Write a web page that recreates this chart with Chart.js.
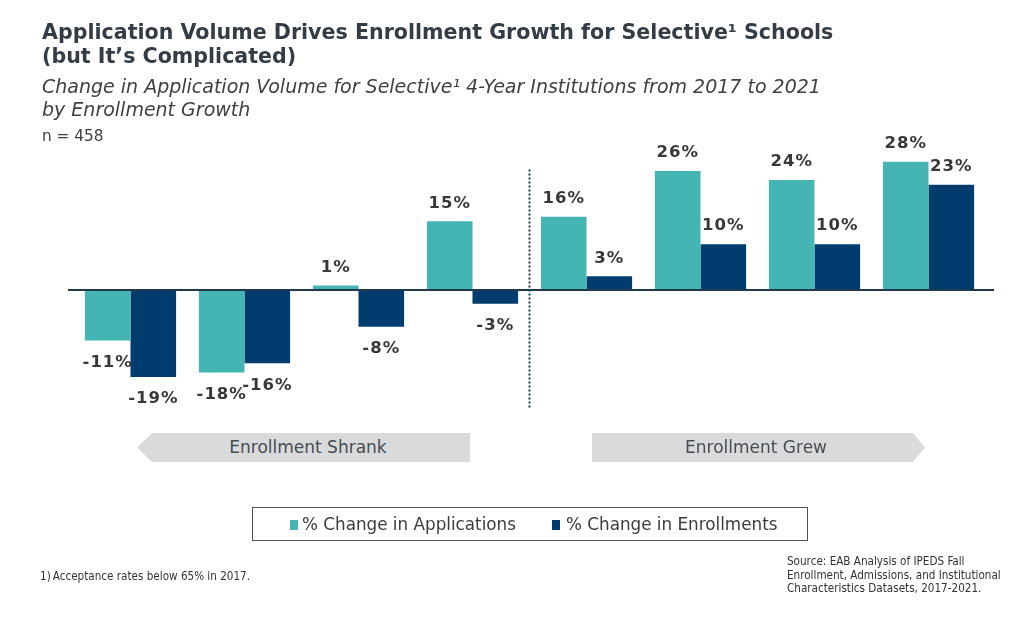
<!DOCTYPE html>
<html>
<head>
<meta charset="utf-8">
<script src="https://cdn.jsdelivr.net/npm/chart.js@4.4.1/dist/chart.umd.min.js"></script>
<style>
  html, body { margin:0; padding:0; background:#fff; }
  body { width:1024px; height:622px; position:relative; overflow:hidden;
         font-family:"DejaVu Sans",sans-serif; color:#3a3a3a; }
  #c { position:absolute; left:0; top:0; }
  .abs { position:absolute; white-space:nowrap; }
  #title { left:42px; top:20px; font-size:20.6px; line-height:24px; font-weight:bold; color:#343c46; }
  #sub { left:42px; top:75px; font-size:19px; line-height:23px; font-style:italic; color:#404040; }
  #n { left:42px; top:126px; font-size:15.3px; line-height:20px; color:#404040; }
  .banner { position:absolute; top:433px; height:29px; background:#d9dadc; color:#464c52;
            font-size:17px; line-height:29px; }
  #shrank { left:137px; width:333px; clip-path:polygon(15px 0,100% 0,100% 100%,15px 100%,0 50%); }
  #grew { left:592px; width:333px; clip-path:polygon(0 0,calc(100% - 12px) 0,100% 50%,calc(100% - 12px) 100%,0 100%); }
  .banner span { position:absolute; top:0; transform:translateX(-50%); }
  #legend { left:252px; top:507px; width:554px; height:32px; border:1.5px solid #505050; }
  .sw { position:absolute; top:12px; width:8px; height:10px; }
  .lt { position:absolute; top:0; line-height:33px; font-size:16.8px; color:#3c3c3c; }
  .cond { font-family:"DejaVu Sans Condensed","DejaVu Sans",sans-serif; }
  #foot { left:40px; top:569px; font-size:11.6px; line-height:14px; color:#333; }
  #src { left:787px; top:555px; font-size:11.6px; line-height:13.5px; color:#333; }
</style>
</head>
<body>
<canvas id="c" width="1024" height="622"></canvas>
<div id="title" class="abs">Application Volume Drives Enrollment Growth for Selective¹ Schools<br>(but It’s Complicated)</div>
<div id="sub" class="abs">Change in Application Volume for Selective¹ 4-Year Institutions from 2017 to 2021<br>by Enrollment Growth</div>
<div id="n" class="abs">n = 458</div>
<div id="shrank" class="banner"><span style="left:171px">Enrollment Shrank</span></div>
<div id="grew" class="banner"><span style="left:164px">Enrollment Grew</span></div>
<div id="legend" class="abs">
  <div class="sw" style="left:37px;background:#45b5b4"></div>
  <div class="lt" style="left:49px">% Change in Applications</div>
  <div class="sw" style="left:299px;background:#003d6e"></div>
  <div class="lt" style="left:313px">% Change in Enrollments</div>
</div>
<div id="foot" class="abs cond">1)&#8201;Acceptance rates below 65% in 2017.</div>
<div id="src" class="abs cond">Source: EAB Analysis of IPEDS Fall<br>Enrollment, Admissions, and Institutional<br>Characteristics Datasets, 2017-2021.</div>
<script>
const categories = ['Shrank A','Shrank B','Shrank C','Shrank D','Grew A','Grew B','Grew C','Grew D'];
const seriesNames = ['% Change in Applications','% Change in Enrollments'];
const applications = [-11, -18, 1, 15, 16, 26, 24, 28];
const enrollments = [-19, -16, -8, -3, 3, 10, 10, 23];
const yMin = -25, yMax = 30;

const overlay = {
  id: 'overlay',
  afterDatasetsDraw(chart) {
    const ctx = chart.ctx, a = chart.chartArea;
    const y0 = chart.scales.y.getPixelForValue(0);
    const xs = chart.scales.x;
    ctx.save();
    // zero axis line
    ctx.strokeStyle = '#22394d'; ctx.lineWidth = 2;
    ctx.beginPath(); ctx.moveTo(a.left - 5.5, y0); ctx.lineTo(a.right + 8.5, y0); ctx.stroke();
    // dotted separator between the shrank and grew groups
    const xm = (xs.getPixelForValue(3) + xs.getPixelForValue(4)) / 2;
    ctx.strokeStyle = '#1e3a5c'; ctx.lineWidth = 2; ctx.setLineDash([2, 2]);
    ctx.beginPath(); ctx.moveTo(xm, a.top + 17); ctx.lineTo(xm, a.bottom + 4); ctx.stroke();
    ctx.setLineDash([]);
    // value labels
    ctx.font = 'bold 16.5px "DejaVu Sans", Verdana, sans-serif';
    try { ctx.letterSpacing = '1px'; } catch (e) {}
    ctx.fillStyle = '#383838'; ctx.textAlign = 'center'; ctx.textBaseline = 'middle';
    chart.data.datasets.forEach((ds, i) => {
      chart.getDatasetMeta(i).data.forEach((el, j) => {
        const v = ds.data[j];
        const y = v >= 0 ? el.y - 18 : el.y + 22;
        ctx.fillText(v + '%', el.x, y);
      });
    });
    ctx.restore();
  }
};

new Chart(document.getElementById('c'), {
  type: 'bar',
  data: {
    labels: categories,
    datasets: [
      { label: seriesNames[0], data: applications, backgroundColor: '#45b5b4', borderWidth: 0 },
      { label: seriesNames[1], data: enrollments, backgroundColor: '#003d6e', borderWidth: 0 }
    ]
  },
  options: {
    responsive: false, animation: false, devicePixelRatio: 1,
    layout: { padding: { left: 73.5, right: 38.5, top: 152.6, bottom: 217.5 } },
    datasets: { bar: { categoryPercentage: 0.8, barPercentage: 1.0 } },
    plugins: { legend: { display: false }, tooltip: { enabled: false }, title: { display: false } },
    scales: {
      x: { display: false, offset: true },
      y: { display: false, min: yMin, max: yMax }
    }
  },
  plugins: [overlay]
});
</script>
</body>
</html>
